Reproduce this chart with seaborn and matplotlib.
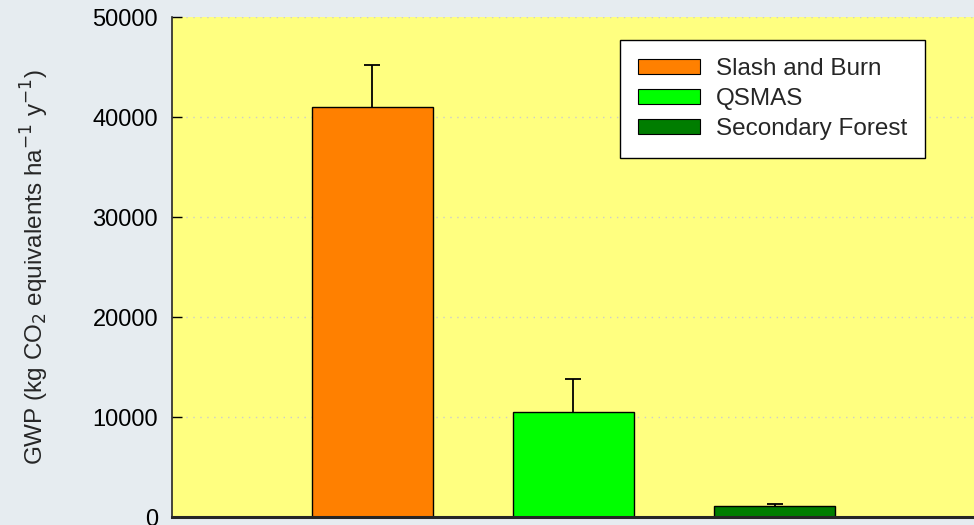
import numpy as np
import matplotlib
matplotlib.use("Agg")
import matplotlib.pyplot as plt
import pandas as pd
import seaborn as sns

# values
systems = ["Slash and Burn", "QSMAS", "Secondary Forest"]
gwp = [41000, 10550, 1130]
gwp_err = [4250, 3300, 170]
bar_colors = ["#ff8000", "#00ff00", "#007d00"]

df = pd.DataFrame({"system": systems, "gwp": gwp})

sns.set_style("ticks")
plt.rcParams["font.family"] = ["Liberation Sans", "DejaVu Sans"]

fig = plt.figure(figsize=(9.74, 5.25), dpi=100)
fig.patch.set_facecolor("#e6ecf0")
ax = fig.add_axes([172 / 974, 8 / 525, 804 / 974, 500 / 525])
ax.set_facecolor("#ffff80")

sns.barplot(data=df, x="system", y="gwp", hue="system", palette=bar_colors,
            order=systems, hue_order=systems, dodge=False, width=0.6, saturation=1,
            edgecolor="black", linewidth=1.0, errorbar=None, legend=False, ax=ax)

# upper error bars only
eb = ax.errorbar(np.arange(len(systems)), gwp, yerr=[np.zeros(len(gwp)), gwp_err],
                 fmt="none", ecolor="black", elinewidth=1.3, capsize=6, capthick=1.3, zorder=3)
eb[1][0].set_visible(False)

ax.set_xlim(-0.995, 3.0)
ax.set_ylim(0, 50000)
ax.set_yticks([0, 10000, 20000, 30000, 40000, 50000])
ax.tick_params(axis="y", labelsize=17, direction="in", length=7, width=1, pad=10, colors="black")
ax.tick_params(axis="x", bottom=False, labelbottom=False)
ax.set_xlabel("")
ax.set_ylabel(r"GWP (kg CO$_2$ equivalents ha$^{-1}$ y$^{-1}$)", fontsize=17.5)
ax.yaxis.set_label_coords(-0.15, 0.5)
ax.grid(axis="y", linestyle=(0, (1, 4)), color="#cccccc", linewidth=1)
ax.set_axisbelow(True)

for s in ["top", "right"]:
    ax.spines[s].set_visible(False)
ax.spines["left"].set_linewidth(1.2)
ax.spines["bottom"].set_linewidth(2.2)

handles = [plt.Rectangle((0, 0), 1, 1, facecolor=c, edgecolor="black", linewidth=0.8)
           for c in bar_colors]
leg = ax.legend(handles, systems, loc="upper left", bbox_to_anchor=(0.557, 0.954),
                fontsize=17.5, frameon=True, fancybox=False, framealpha=1,
                edgecolor="black", handlelength=2.55, handleheight=0.55,
                labelspacing=0.32, borderpad=0.75, handletextpad=0.65, borderaxespad=0)
leg.get_frame().set_linewidth(1)

fig.savefig("out.png", dpi=100, facecolor=fig.get_facecolor())
